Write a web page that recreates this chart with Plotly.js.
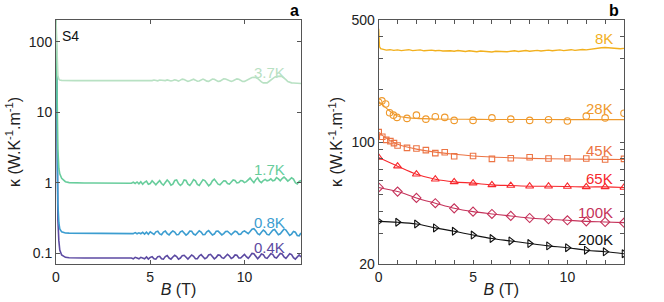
<!DOCTYPE html>
<html><head><meta charset="utf-8">
<script src="https://cdn.plot.ly/plotly-3.0.1.min.js"></script>
<style>html,body{margin:0;padding:0;background:#fff}#c{width:664px;height:302px}</style>
</head><body><div id="c"></div>
<script>
// ---------- Panel a data ----------
const Ba = [0,0.05,0.1,0.15,0.2,0.3,0.4,0.5,0.7,1.0,1.5,2.0,2.5,3.0,3.5,
3.6,3.7,3.8,3.9,4.0,4.1,4.2,4.3,4.4,4.5,
4.6,4.7,4.8,4.9,5.0,5.1,5.2,5.3,5.4,5.5,
5.6,5.7,5.8,5.9,6.0,6.1,6.2,6.3,6.4,6.5,
6.6,6.7,6.8,6.9,7.0,7.1,7.2,7.3,7.4,7.5,
7.6,7.7,7.8,7.9,8.0,8.1,8.2,8.3,8.4,8.5,
8.6,8.7,8.8,8.9,9.0,9.1,9.2,9.3,9.4,9.5,
9.6,9.7,9.8,9.9,10.0,10.1,10.2,10.3,10.4,10.5,
10.6,10.7,10.8,10.9,11.0,11.1,11.2,11.3,11.4,11.5,
11.6,11.7,11.8,11.9,12.0,12.1,12.2,12.3,12.4,12.5,
12.6,12.7,12.8,12.9,13.0];
const k37 = [210,60,33,29.5,28.6,28.2,28.1,28.0,28.0,28.0,28.0,28.0,28.0,27.9,28.0,
28.0,28.0,28.1,27.9,28.1,27.8,28.2,27.8,28.2,27.8,
28.3,27.9,28.1,28.4,27.8,28.0,28.5,27.9,27.8,28.5,
28.3,27.7,28.0,28.6,28.2,27.6,28.0,28.7,28.3,27.5,
28.4,29.4,29.0,27.8,27.2,27.8,28.9,29.3,28.4,27.4,
27.6,28.8,29.4,28.6,27.5,27.3,28.4,29.5,29.2,28.0,
27.2,27.5,28.6,29.6,29.5,28.5,27.4,27.2,27.8,28.9,
29.6,29.2,28.0,27.2,27.3,28.2,29.4,30.4,30.9,31.2,
31.0,30.0,28.2,26.8,26.0,25.7,26.0,27.2,28.8,30.2,
31.3,31.9,32.3,32.4,32.0,30.8,28.9,27.2,26.3,26.0,
25.9,25.8,25.7,25.6,25.5];
const k17 = [210,12,3.0,1.6,1.33,1.15,1.08,1.03,1.0,0.99,0.985,0.985,0.985,0.985,0.99,
0.985,0.99,0.98,0.995,0.98,1.01,0.97,1.02,0.96,1.03,
0.95,1.01,1.05,0.95,0.97,1.06,0.99,0.93,1.0,1.07,
0.97,0.92,1.0,1.09,1.02,0.92,0.95,1.07,1.09,0.97,
0.91,0.96,1.09,1.07,0.95,0.91,0.99,1.1,1.06,0.94,
0.91,1.0,1.1,1.07,0.96,0.9,0.95,1.06,1.12,1.04,
0.95,0.93,1.0,1.06,1.05,0.97,0.95,1.02,1.09,1.07,
0.99,1.0,1.07,1.06,1.0,1.03,1.11,1.16,1.07,1.0,
1.1,1.17,1.05,1.0,1.07,1.11,1.06,1.08,1.13,1.06,
1.08,1.18,1.13,1.06,1.14,1.2,1.13,1.05,1.1,1.17,
1.12,1.0,0.96,1.04,1.07];
const k08 = [210,3,0.5,0.27,0.22,0.2,0.195,0.193,0.192,0.192,0.191,0.191,0.191,0.191,0.191,
0.191,0.193,0.189,0.193,0.19,0.189,0.195,0.188,0.194,0.188,
0.197,0.186,0.198,0.185,0.2,0.189,0.184,0.2,0.204,0.187,
0.182,0.199,0.205,0.189,0.181,0.195,0.206,0.199,0.182,0.183,
0.2,0.206,0.189,0.18,0.189,0.205,0.204,0.186,0.18,0.195,
0.207,0.199,0.182,0.183,0.2,0.208,0.196,0.18,0.186,0.204,
0.205,0.189,0.181,0.189,0.203,0.204,0.189,0.182,0.193,0.205,
0.199,0.184,0.185,0.2,0.206,0.195,0.188,0.202,0.218,0.222,
0.208,0.188,0.182,0.198,0.212,0.202,0.184,0.181,0.197,0.211,
0.216,0.199,0.182,0.188,0.207,0.22,0.212,0.19,0.178,0.186,
0.203,0.198,0.178,0.176,0.193];
const k04 = [210,2,0.3,0.15,0.11,0.094,0.089,0.087,0.086,0.085,0.085,0.085,0.085,0.085,0.085,
0.085,0.086,0.084,0.086,0.085,0.083,0.087,0.085,0.083,0.087,
0.085,0.083,0.088,0.082,0.087,0.089,0.083,0.082,0.089,0.09,
0.083,0.082,0.089,0.092,0.085,0.082,0.088,0.093,0.089,0.082,
0.085,0.092,0.093,0.086,0.082,0.088,0.094,0.09,0.083,0.083,
0.091,0.095,0.088,0.083,0.086,0.094,0.096,0.088,0.083,0.087,
0.094,0.093,0.086,0.084,0.091,0.096,0.091,0.084,0.087,0.094,
0.093,0.085,0.085,0.092,0.096,0.089,0.084,0.091,0.099,0.098,
0.088,0.083,0.089,0.097,0.095,0.086,0.084,0.092,0.098,0.096,
0.087,0.085,0.093,0.099,0.097,0.088,0.084,0.091,0.098,0.095,
0.086,0.082,0.087,0.094,0.088];
const labelsA = ['3.7K','1.7K','0.8K','0.4K'];
const colorsA = ['#b8e1c3','#68cd9c','#3c9dd0','#5c4aa2'];

// ---------- Panel b data ----------
const B8 = [0,0.04,0.1,
0.2,0.4,0.6,0.8,1.0,1.2,1.4,1.6,1.8,2.0,
2.2,2.4,2.6,2.8,3.0,3.2,3.4,3.6,3.8,4.0,
4.2,4.4,4.6,4.8,5.0,5.2,5.4,5.6,5.8,6.0,
6.2,6.4,6.6,6.8,7.0,7.2,7.4,7.6,7.8,8.0,
8.2,8.4,8.6,8.8,9.0,9.2,9.4,9.6,9.8,10.0,
10.2,10.4,10.6,10.8,11.0,11.2,11.4,11.6,11.8,12.0,
12.2,12.4,12.6,12.8,13.0];
const k8 = [445,352,343,
340,336,338,335,337,334,336,338,334,335,
337,333,335,336,333,335,332,334,333,331,
334,332,330,333,331,329,332,330,331,328,
331,330,332,329,331,333,330,332,334,331,
333,335,332,334,336,333,335,337,334,336,
338,335,337,339,337,340,342,345,347,348,
346,345,343,342,344];
const B28 = [0,0.17,0.37,0.58,0.78,0.97,1.5,2,2.5,3,3.5,4,5,6,7,8,9,10,11,12,13];
const k28 = [169,172,165,147,142.5,138.3,136.5,142.5,135.2,139.4,138.3,133,133,137.4,135.2,133,134,132,140.6,137.4,146];
const B28fit = [0,0.25,0.5,0.75,1,1.5,2,3,4,5,6,8,10,13];
const k28fit = [170,162,153,146,141,138,136.5,135.5,135,134.8,134.6,134.5,134.4,134.4];
const B45 = [0,0.19,0.4,0.62,0.81,1.0,1.5,2,2.5,3,3.5,4,5,6,7,8,9,10,11,12,13];
const k45 = [113.9,107.1,102.9,101.1,98.5,95.5,92.5,91.8,89.8,86.3,87.4,82.9,83.2,80.0,80.7,81.8,80.4,80.7,80.4,79.4,80.0];
const B45fit = [0,0.25,0.5,0.75,1,1.5,2,3,4,5,6,7,8,9,10,11,12,13];
const k45fit = [114,108,103.5,100,97,93.5,91,87.5,85,83.2,82,81.2,80.6,80.2,79.9,79.7,79.5,79.4];
const Bint = [0,1,2,3,4,5,6,7,8,9,10,11,12,13];
const k65 = [81.5,72.7,65.4,61.2,59.1,58.1,56.8,56.3,55.8,55.8,55.6,55.3,55.3,54.9];
const k100 = [54.9,52.0,47.8,44.6,41.7,39.9,38.7,37.7,36.7,36.1,35.6,35.1,34.8,34.5];
const k200 = [35.1,34.7,33.9,32.2,30.8,29.3,28.0,27.1,26.2,25.4,24.8,24.0,23.5,22.9];
const labelsB = ['8K','28K','45K','65K','100K','200K'];
const colorsB = ['#f2b01e','#ef9a2e','#ec7444','#f7282d','#c5325a','#111111'];

const xMajorB = [0,5,10];
const xMinorB = [1,2,3,4,6,7,8,9,11,12,13];
const yMajorB = [20,100,500];
const yMinorB = [30,40,50,60,70,80,90,200,300,400];

// ---------- traces ----------
const traces = [];
const ysA = [k37,k17,k08,k04];
for (let i = 3; i >= 0; i--) {
  traces.push({x:Ba, y:ysA[i], xaxis:'x', yaxis:'y', mode:'lines',
    line:{color:colorsA[i], width:1.6}, hoverinfo:'skip'});
}
traces.push({x:B8, y:k8, xaxis:'x2', yaxis:'y2', mode:'lines', line:{color:colorsB[0], width:1.4}});
traces.push({x:B28fit, y:k28fit, xaxis:'x2', yaxis:'y2', mode:'lines', line:{color:colorsB[1], width:1.1, shape:'spline'}});
traces.push({x:B28, y:k28, xaxis:'x2', yaxis:'y2', mode:'markers', marker:{symbol:'circle-open', size:6.5, color:colorsB[1], line:{width:1.1}}});
traces.push({x:B45fit, y:k45fit, xaxis:'x2', yaxis:'y2', mode:'lines', line:{color:colorsB[2], width:1.1, shape:'spline'}});
traces.push({x:B45, y:k45, xaxis:'x2', yaxis:'y2', mode:'markers', marker:{symbol:'square-open', size:5.5, color:colorsB[2], line:{width:1.1}}});
traces.push({x:Bint, y:k65, xaxis:'x2', yaxis:'y2', mode:'lines+markers', line:{color:colorsB[3], width:1.1, shape:'spline'}, marker:{symbol:'triangle-up-open', size:7, color:colorsB[3], line:{width:1.1}}});
traces.push({x:Bint, y:k100, xaxis:'x2', yaxis:'y2', mode:'lines+markers', line:{color:colorsB[4], width:1.1, shape:'spline'}, marker:{symbol:'diamond-open', size:7, color:colorsB[4], line:{width:1.1}}});
traces.push({x:Bint, y:k200, xaxis:'x2', yaxis:'y2', mode:'lines+markers', line:{color:colorsB[5], width:1.1, shape:'spline'}, marker:{symbol:'triangle-right-open', size:7, color:colorsB[5], line:{width:1.1}}});

// ---------- annotations ----------
const labYA = [37, 1.52, 0.272, 0.119];
const labYB = [393, 156, 89.8, 61.8, 39.7, 27.6];
const ann = [];
labelsA.forEach((t,i)=>ann.push({text:t, x:12.25, y:Math.log10(labYA[i]), xref:'x', yref:'y', xanchor:'right', yanchor:'middle', showarrow:false, font:{size:15, color:colorsA[i]}}));
labelsB.forEach((t,i)=>ann.push({text:t, x:12.52, y:Math.log10(labYB[i]), xref:'x2', yref:'y2', xanchor:'right', yanchor:'middle', showarrow:false, font:{size:15, color:colorsB[i]}}));
ann.push({text:'S4', x:0.22, y:2.085, xref:'x', yref:'y', xanchor:'left', yanchor:'middle', showarrow:false, font:{size:14, color:'#111'}});
ann.push({text:'<b>a</b>', x:300/664, y:1, xref:'paper', yref:'paper', xanchor:'right', yanchor:'bottom', showarrow:false, font:{size:16, color:'#000'}, borderpad:0});
ann.push({text:'<b>b</b>', x:620/664, y:1, xref:'paper', yref:'paper', xanchor:'right', yanchor:'bottom', showarrow:false, font:{size:16, color:'#000'}, borderpad:0});

const axBase = {ticks:'inside', ticklen:4, tickwidth:1, tickcolor:'#555', mirror:'ticks', showline:true, linecolor:'#555', linewidth:1, showgrid:false, zeroline:false, tickfont:{size:14, color:'#222'}};
const ytitle = {text:'κ (W.K<sup>-1</sup>.m<sup>-1</sup>)', font:{size:16, color:'#222'}, standoff:4};
const xtitle = {text:'<i>B</i> (T)', font:{size:16, color:'#222'}, standoff:0};

const layout = {
  width:664, height:302, margin:{l:0, r:0, t:20, b:38},
  paper_bgcolor:'#fff', plot_bgcolor:'#fff', showlegend:false,
  font:{family:'Liberation Sans, Arial, sans-serif', size:14, color:'#222'},
  xaxis:Object.assign({}, axBase, {domain:[56/664, 301/664], range:[0,13], tickvals:[0,5,10], anchor:'y', title:xtitle}),
  yaxis:Object.assign({}, axBase, {domain:[0,1], type:'log', range:[-1.155, 2.307], tickvals:[0.1,1,10,100], ticktext:['0.1','1','10','100'], anchor:'x', title:ytitle}),
  xaxis2:Object.assign({}, axBase, {domain:[378.7/664, 624/664], range:[0,13], tickvals:xMajorB, anchor:'y2', title:xtitle,
    minor:{tickmode:'array', tickvals:xMinorB, ticks:'inside', ticklen:4, tickcolor:'#555', showgrid:false}}),
  yaxis2:Object.assign({}, axBase, {domain:[0,1], type:'log', range:[Math.log10(20), Math.log10(500)], tickvals:yMajorB, ticktext:['20','100','500'], anchor:'x2', title:ytitle,
    minor:{tickmode:'array', tickvals:yMinorB, ticks:'inside', ticklen:4, tickcolor:'#555', showgrid:false}}),
  annotations:ann
};
Plotly.newPlot('c', traces, layout, {staticPlot:true, displayModeBar:false});
</script></body></html>
